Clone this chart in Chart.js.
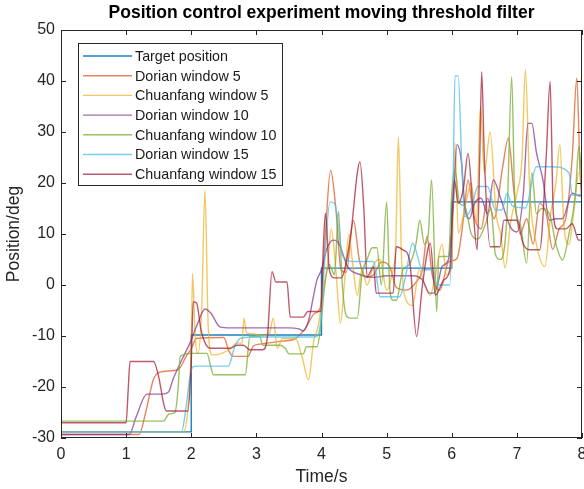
<!DOCTYPE html>
<html>
<head>
<meta charset="utf-8">
<script src="https://cdn.jsdelivr.net/npm/chart.js@4.4.0/dist/chart.umd.min.js"></script>
<style>
body{margin:0;background:#fff;}
</style>
</head>
<body>
<canvas id="myChart" width="584" height="489"></canvas>
<script>
// series names, in MATLAB plot order
const labels = [
  'Target position',
  'Dorian window 5',
  'Chuanfang window 5',
  'Dorian window 10',
  'Chuanfang window 10',
  'Dorian window 15',
  'Chuanfang window 15',
];

// time (s) and position (deg)
const targetT = [0, 2, 2, 4, 4, 6, 6, 8];
const targetV = [-28.8, -28.8, -9.8, -9.8, 3.3, 3.3, 16.3, 16.3];

const dorian5T = [0,1.2,1.3,1.42,1.55,1.8,1.93,2.0,2.08,2.5,2.58,2.65,2.87,2.95,3.05,3.4,3.6,3.75,3.9,3.98,4.05,4.14,4.22,4.3,4.38,4.49,4.58,4.68,4.8,4.92,5.05,5.15,5.3,5.45,5.55,5.62,5.7,5.82,5.95,6.08,6.18,6.25,6.33,6.45,6.55,6.65,6.78,6.87,6.95,7.05,7.15,7.25,7.35,7.45,7.55,7.65,7.75,7.85,7.92,7.97,8];
const dorian5V = [-29.3,-29.3,-25,-18.5,-17,-16.6,-13.8,-12.5,-10.5,-10.3,-13,-14,-14,-12,-11.6,-11,-10.5,-8.5,-5.5,-4.5,8,22.5,15,3,2.5,12.7,5,1.5,2,4.5,3.5,-0.5,-1,0.5,3,9.5,2,-1,4.5,5.2,13,20.6,14,11,17,13,23,28.8,19,10,13,8,16,14,7,11,13,25,40.6,22,16];

const chuan5T = [0,1.88,1.95,2.0,2.02,2.06,2.1,2.16,2.21,2.26,2.32,2.45,2.6,2.7,2.78,2.81,2.85,2.95,3.1,3.2,3.26,3.32,3.4,3.6,3.7,3.8,3.88,3.95,4.02,4.1,4.15,4.22,4.29,4.35,4.42,4.48,4.55,4.62,4.7,4.8,4.9,5.0,5.08,5.14,5.18,5.23,5.3,5.4,5.5,5.6,5.67,5.75,5.85,5.92,6.0,6.05,6.1,6.2,6.3,6.38,6.44,6.5,6.59,6.68,6.75,6.82,6.9,7.0,7.08,7.13,7.2,7.3,7.43,7.52,7.6,7.66,7.72,7.8,7.88,7.95,8];
const chuan5V = [-28.8,-28.8,-24,-12,2.3,-10,-13.4,-5,18.6,-8,-13.7,-13.5,-12.5,-11.4,-11.4,-6.5,-9.4,-9.6,-10,-9.5,-6.5,-12.4,-10.5,-10.5,-14,-18.6,-11,-8,-2,5,11,3,-7.5,0,10,4,-2,3,0,4,5,-1,2,8,29,5,-3,-4,3,-0.5,-2,2,8,2,4,27.8,10.2,15,20,12,35,22,30,14,10,3.3,12,18,25,42.2,18,8,3.6,14,20,27.5,12,8,15,22,21.5];

const dorian10T = [0,1.05,1.15,1.32,1.55,1.65,1.72,1.78,1.9,1.98,2.1,2.21,2.3,2.44,2.6,3.0,3.5,3.65,3.72,3.8,3.88,3.93,4.0,4.08,4.18,4.25,4.4,4.6,4.8,5.0,5.2,5.4,5.55,5.66,5.73,5.8,5.85,5.95,6.02,6.08,6.15,6.2,6.27,6.35,6.45,6.55,6.64,6.75,6.9,7.0,7.1,7.17,7.23,7.3,7.4,7.5,7.6,7.7,7.85,7.95,8];
const dorian10V = [-29.3,-29.3,-26,-21.4,-21.4,-21,-18.5,-16.7,-13.5,-11.4,-7.5,-4.7,-5.5,-8.2,-8.4,-8.4,-8.4,-8.6,-9,-7,-2,1,3,7,8.8,8.5,3.6,2,1.5,1.8,1.8,1.8,1,-1.6,-1.6,1,3.6,5,15,27.5,24,15.4,13,16,17,14,20.6,17,11.4,10.4,18,31.7,31.7,26,20.6,12.7,13,13,18,17.5,17.5];

const chuan10T = [0,1.57,1.66,1.75,1.8,1.83,2.0,2.24,2.3,2.34,2.83,2.9,3.05,3.1,3.36,3.45,3.5,3.72,3.77,3.93,3.98,4.05,4.12,4.2,4.26,4.32,4.38,4.44,4.55,4.62,4.7,4.78,4.85,4.92,5.0,5.05,5.1,5.15,5.25,5.35,5.45,5.51,5.58,5.64,5.69,5.77,5.8,5.95,6.0,6.05,6.12,6.2,6.3,6.4,6.52,6.6,6.67,6.75,6.85,6.92,6.97,7.05,7.15,7.23,7.3,7.38,7.5,7.6,7.7,7.8,7.9,7.95,8];
const chuan10V = [-26.7,-26.7,-25.3,-25,-20,-14,-13.4,-13.4,-16,-17.6,-17.6,-10.1,-10.1,-11.8,-11.8,-12.5,-13.5,-13.5,-12.1,-12.1,-9,0,4,2,14.4,0,-6,-6.5,-6.5,2,5,7.3,7.3,0,16.3,-1,-3,-3,3,4,8,12.7,8,10,20.6,-5.2,5.6,5.6,18,22.5,16,15.5,10,9,12,15,6,5,14,40.8,16,12,4.3,22,14,15,14,8,4.9,10,18,27.1,20];

const dorian15T = [0,1.85,1.92,1.98,2.03,2.1,2.57,2.67,2.77,3.0,3.5,3.9,3.98,4.05,4.13,4.2,4.33,4.5,4.8,4.9,5.2,5.28,5.4,5.55,5.7,5.78,5.97,6.02,6.05,6.1,6.15,6.2,6.3,6.4,6.55,6.67,6.77,6.85,6.93,7.13,7.3,7.55,7.8,7.85,8];
const dorian15V = [-28.8,-28.8,-24,-18,-16,-15.9,-15.9,-12,-10.4,-10.2,-10.2,-10.2,-8,5,16.3,16,5.6,4.6,4.6,-2.3,-2.3,1,8.2,3,3,0,0,20,41,41,25,13.4,15,19.3,19.3,14.7,14.7,18,15.5,15.1,23.2,23.2,22,17.6,17.8];

const chuan15T = [0,1.0,1.03,1.06,1.42,1.5,1.58,1.62,1.95,2.0,2.03,2.08,2.15,2.2,2.29,2.6,2.7,2.8,2.9,3.1,3.17,3.24,3.3,3.47,3.52,3.72,3.79,3.99,4.03,4.06,4.12,4.2,4.3,4.45,4.55,4.59,4.65,4.7,4.8,4.84,5.1,5.15,5.25,5.35,5.46,5.55,5.67,5.75,5.88,5.97,6.04,6.1,6.18,6.25,6.32,6.39,6.43,6.46,6.5,6.59,6.74,6.8,6.9,7.0,7.1,7.2,7.35,7.45,7.51,7.56,7.62,7.75,7.85,7.95,8];
const chuan15V = [-27,-27,-21,-15,-15,-18,-23.5,-24.7,-24.7,-15,-3.3,-3.5,-8.8,-11,-12.4,-12.4,-11.8,-11.8,-12.7,-12.7,-10.1,2.6,0.6,0.6,-6.3,-6.3,-5.2,-5.2,8,14.1,3,1.4,1.4,10,22,24.2,15,1.6,3.6,-1.6,-1.6,7.5,6.9,5,-10.1,0,8.2,-2,1,3,20.6,16,19,25.8,16,6.9,25,41.8,25,7.5,7.5,12.7,12.7,12.7,8,6.9,6.9,25,39.9,14,11,11,12,8.8,8.8];

const seriesT = [targetT, dorian5T, chuan5T, dorian10T, chuan10T, dorian15T, chuan15T];
const seriesV = [targetV, dorian5V, chuan5V, dorian10V, chuan10V, dorian15V, chuan15V];

const colors = [
  'rgba(0,114,189,0.9)',
  'rgba(217,83,25,0.7)',
  'rgba(237,177,32,0.7)',
  'rgba(126,47,142,0.7)',
  'rgba(119,172,48,0.75)',
  'rgba(77,190,238,0.75)',
  'rgba(162,20,47,0.7)',
];

const fontFam = '"Liberation Sans", Arial, Helvetica, sans-serif';
const titleText = 'Position control experiment moving threshold filter';

const datasets = labels.map((name, i) => ({
  label: name,
  data: seriesT[i].map((t, k) => ({x: t, y: seriesV[i][k]})),
  borderColor: colors[i],
  borderWidth: 1.4,
  pointRadius: 0,
  fill: false,
  tension: 0,
  cubicInterpolationMode: i === 0 ? 'default' : 'monotone',
  order: -i,
}));

// box, inward ticks, title and legend like a MATLAB figure
const matlabLook = {
  id: 'matlabLook',
  afterDraw(chart) {
    const ctx = chart.ctx;
    const a = chart.chartArea;
    const xs = chart.scales.x, ys = chart.scales.y;
    ctx.save();
    ctx.strokeStyle = '#262626';
    ctx.lineWidth = 1;
    ctx.strokeRect(Math.round(a.left) + 0.5, Math.round(a.top) + 0.5,
      Math.round(a.right - a.left) - 1, Math.round(a.bottom - a.top) - 1);
    ctx.beginPath();
    xs.ticks.forEach(tk => {
      const px = Math.round(xs.getPixelForValue(tk.value)) + 0.5;
      ctx.moveTo(px, a.bottom); ctx.lineTo(px, a.bottom - 5);
      ctx.moveTo(px, a.top); ctx.lineTo(px, a.top + 5);
    });
    ys.ticks.forEach(tk => {
      const py = Math.round(ys.getPixelForValue(tk.value)) + 0.5;
      ctx.moveTo(a.left, py); ctx.lineTo(a.left + 5, py);
      ctx.moveTo(a.right, py); ctx.lineTo(a.right - 5, py);
    });
    ctx.stroke();

    // title
    ctx.fillStyle = '#000';
    ctx.font = 'bold 17.5px ' + fontFam;
    ctx.textAlign = 'center';
    ctx.textBaseline = 'middle';
    ctx.fillText(titleText, (a.left + a.right) / 2, 13);

    // legend
    const lx = 78, ly = 43, lw = 204, lh = 142;
    ctx.fillStyle = '#fff';
    ctx.fillRect(lx, ly, lw, lh);
    ctx.strokeStyle = '#262626';
    ctx.lineWidth = 1;
    ctx.strokeRect(lx + 0.5, ly + 0.5, lw, lh);
    ctx.font = '14.3px ' + fontFam;
    ctx.textAlign = 'left';
    chart.data.datasets.forEach((ds, i) => {
      const y = 56 + i * 19.7;
      ctx.strokeStyle = ds.borderColor;
      ctx.lineWidth = 1.4;
      ctx.beginPath();
      ctx.moveTo(83, y); ctx.lineTo(132, y);
      ctx.stroke();
      ctx.fillStyle = '#1a1a1a';
      ctx.fillText(ds.label, 135, y + 1);
    });
    ctx.restore();
  }
};

const tickFont = {family: fontFam, size: 16};
const labelFont = {family: fontFam, size: 17.5};

const config = {
  type: 'line',
  data: {datasets: datasets},
  options: {
    responsive: false,
    animation: false,
    devicePixelRatio: 1,
    layout: {padding: {top: 30, right: 2, left: 0, bottom: 0}},
    plugins: {
      legend: {display: false},
      tooltip: {enabled: false},
    },
    scales: {
      x: {
        type: 'linear',
        min: 0,
        max: 8,
        ticks: {stepSize: 1, padding: 7, color: '#262626', font: tickFont, maxRotation: 0},
        grid: {display: false, drawTicks: false},
        border: {display: false},
        title: {display: true, text: 'Time/s', color: '#262626', font: labelFont, padding: {top: 0, bottom: 1}},
        afterFit(s) { s.height = 51; s.paddingLeft = 0; s.paddingRight = 0; },
      },
      y: {
        type: 'linear',
        min: -30,
        max: 50,
        ticks: {stepSize: 10, padding: 6, color: '#262626', font: tickFont},
        grid: {display: false, drawTicks: false},
        border: {display: false},
        title: {display: true, text: 'Position/deg', color: '#262626', font: labelFont, padding: {top: 4, bottom: 0}},
        afterFit(s) { s.width = 61; s.paddingTop = 0; s.paddingBottom = 0; },
      },
    },
  },
  plugins: [matlabLook],
};

const myChart = new Chart(document.getElementById('myChart'), config);
</script>
</body>
</html>
